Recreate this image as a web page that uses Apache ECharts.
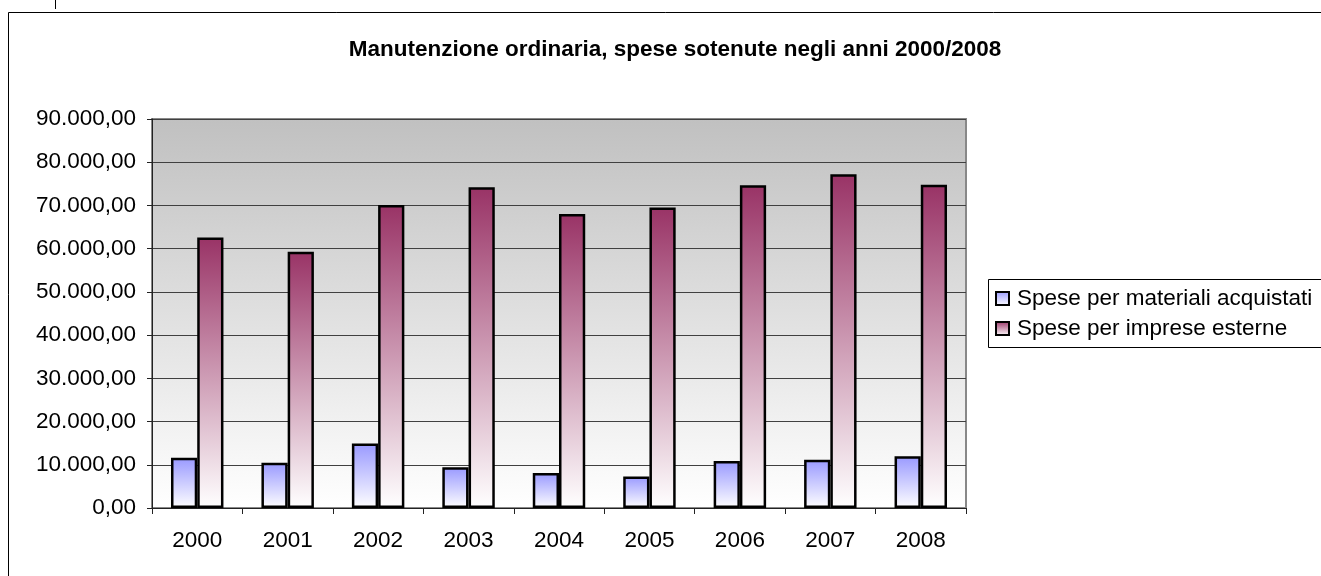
<!DOCTYPE html>
<html>
<head>
<meta charset="utf-8">
<script src="https://cdn.jsdelivr.net/npm/echarts@6/dist/echarts.min.js"></script>
<style>
  html, body { margin: 0; padding: 0; background: #fff; }
  #main { width: 1321px; height: 576px; }
</style>
</head>
<body>
<div id="main"></div>
<script>
// dati
var anni = ['2000', '2001', '2002', '2003', '2004', '2005', '2006', '2007', '2008'];
var materiali = [11600, 10450, 14900, 9400, 8100, 7300, 10850, 11150, 12000];
var imprese = [62600, 59300, 70100, 74200, 68000, 69500, 74700, 77200, 74800];
var nomeSerie = ['Spese per materiali acquistati', 'Spese per imprese esterne'];

var FONT = '"Liberation Sans", Arial, sans-serif';

// formato italiano: 90.000,00
function formatIt(v) {
    var s = Math.round(v).toString().replace(/\B(?=(\d{3})+(?!\d))/g, '.');
    return s + ',00';
}

function sfumatura(c) {
    return new echarts.graphic.LinearGradient(0, 0, 0, 1, [
        { offset: 0, color: c },
        { offset: 1, color: '#ffffff' }
    ]);
}

var chart = echarts.init(document.getElementById('main'));

var option = {
    animation: false,
    backgroundColor: '#fff',
    textStyle: { fontFamily: FONT },
    title: {
        text: 'Manutenzione ordinaria, spese sotenute negli anni 2000/2008',
        left: 670,
        textAlign: 'center',
        top: 33,
        textStyle: { fontFamily: FONT, fontSize: 22.5, fontWeight: 'bold', color: '#000' }
    },
    graphic: [
        {   // cornice esterna
            type: 'rect', silent: true,
            shape: { x: 8.5, y: 12.5, width: 1400, height: 700 },
            style: { fill: null, stroke: '#000', lineWidth: 1 }
        },
        {
            type: 'line', silent: true,
            shape: { x1: 55.5, y1: 0, x2: 55.5, y2: 9 },
            style: { stroke: '#000', lineWidth: 1 }
        },
        {   // riquadro legenda
            type: 'rect', silent: true,
            shape: { x: 988.5, y: 279.5, width: 400, height: 68 },
            style: { fill: '#fff', stroke: '#000', lineWidth: 1 }
        }
    ],
    legend: {
        orient: 'vertical',
        left: 995,
        top: 287,
        itemWidth: 13,
        itemHeight: 13,
        itemGap: 7,
        padding: 0,
        textStyle: { fontFamily: FONT, fontSize: 22.5, lineHeight: 20, color: '#000', padding: [0, 0, 0, 3] },
        data: [
            { name: nomeSerie[0], icon: 'rect', itemStyle: { color: sfumatura('#9999ff'), borderColor: '#000', borderWidth: 2 } },
            { name: nomeSerie[1], icon: 'rect', itemStyle: { color: sfumatura('#993366'), borderColor: '#000', borderWidth: 2 } }
        ]
    },
    grid: {
        left: 152,
        right: 355,
        top: 119,
        bottom: 68,
        show: true,
        backgroundColor: new echarts.graphic.LinearGradient(0, 0, 0, 1, [
            { offset: 0, color: '#c0c0c0' },
            { offset: 1, color: '#ffffff' }
        ]),
        borderColor: '#888',
        borderWidth: 2
    },
    xAxis: {
        type: 'category',
        data: anni,
        axisLine: { lineStyle: { color: '#222', width: 1 } },
        axisTick: { show: true, length: 6, lineStyle: { color: '#222' } },
        axisLabel: { color: '#000', fontSize: 22.5, fontFamily: FONT, margin: 21 }
    },
    yAxis: {
        type: 'value',
        min: 0,
        max: 90000,
        interval: 10000,
        axisLine: { show: true, lineStyle: { color: '#222', width: 1 } },
        axisTick: { show: true, length: 5, lineStyle: { color: '#222' } },
        splitLine: { show: true, lineStyle: { color: '#404040', width: 1 } },
        axisLabel: { color: '#000', fontSize: 22.5, fontFamily: FONT, margin: 16, formatter: formatIt }
    },
    series: [
        {
            name: nomeSerie[0],
            type: 'bar',
            data: materiali,
            barGap: '0%',
            barCategoryGap: '42%',
            itemStyle: { color: sfumatura('#9999ff'), borderColor: '#000', borderWidth: 2.5 }
        },
        {
            name: nomeSerie[1],
            type: 'bar',
            data: imprese,
            barGap: '0%',
            barCategoryGap: '42%',
            itemStyle: { color: sfumatura('#993366'), borderColor: '#000', borderWidth: 2.5 }
        }
    ]
};

chart.setOption(option);
</script>
</body>
</html>
